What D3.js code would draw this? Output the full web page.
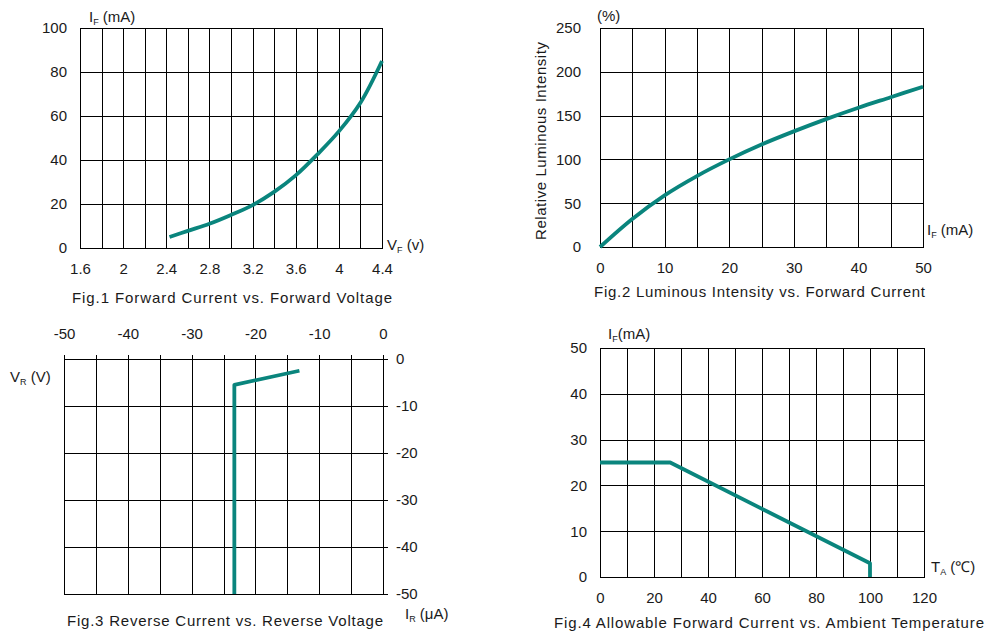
<!DOCTYPE html>
<html lang="en">
<head>
<meta charset="utf-8">
<title>LED characteristics</title>
<style>
  body { margin: 0; background: #fff; }
  svg text { font-family: "Liberation Sans", Arial, sans-serif; fill: #1a1a1a; }
  .grid line, .grid path { stroke: #000; stroke-width: 1; shape-rendering: crispEdges; }
  .lbl .domain, .lbl line { display: none; }
  .lbl text { font-size: 15px; }
  .curve { fill: none; stroke: #0a857d; stroke-width: 3.8; stroke-linejoin: round; }
</style>
</head>
<body>
<script src="https://cdn.jsdelivr.net/npm/d3@7"></script>
<script>
// Fig.1 forward current vs forward voltage
var fig1Volt = [2.43, 2.6, 2.8, 3.0, 3.2, 3.4, 3.6, 3.8, 4.0, 4.2, 4.4];
var fig1Curr = [5, 7.8, 11, 15, 19.5, 25.5, 33, 42.5, 53, 66, 85];
var fig1XTicks = [1.6, 2, 2.4, 2.8, 3.2, 3.6, 4, 4.4];
var fig1YTicks = [0, 20, 40, 60, 80, 100];

// Fig.2 luminous intensity vs forward current
var fig2Curr = [0, 5, 10, 15, 20, 25, 30, 35, 40, 45, 50];
var fig2Lum = [0, 32, 59, 81, 100, 117, 132, 146, 159, 171, 183];
var fig2XTicks = [0, 10, 20, 30, 40, 50];
var fig2YTicks = [0, 50, 100, 150, 200, 250];

// Fig.3 reverse current vs reverse voltage
var fig3Curr = [-23.3, -23.3, -13.1];
var fig3Volt = [-50, -5.5, -2.5];
var fig3XTicks = [-50, -40, -30, -20, -10, 0];
var fig3YTicks = [0, -10, -20, -30, -40, -50];

// Fig.4 allowable forward current vs ambient temperature
var fig4Temp = [0, 26, 100, 100];
var fig4Curr = [25, 25, 3, 0];
var fig4XTicks = [0, 20, 40, 60, 80, 100, 120];
var fig4YTicks = [0, 10, 20, 30, 40, 50];

var svg = d3.select("body").append("svg")
    .attr("width", 986)
    .attr("height", 634);

// plain hyphen minus, like the original datasheet
var plain = function(d) { return String(d); };

function gridValues(dom, step) {
    var out = [], lo = Math.min(dom[0], dom[1]), hi = Math.max(dom[0], dom[1]);
    for (var v = lo; v <= hi + 1e-9; v += step) out.push(+v.toFixed(4));
    return out;
}

function panel(o) {
    var x = d3.scaleLinear().domain(o.xDomain).range(o.xRange);
    var y = d3.scaleLinear().domain(o.yDomain).range(o.yRange);
    var left = o.xRange[0], right = o.xRange[1];
    var top = Math.min(o.yRange[0], o.yRange[1]), bottom = Math.max(o.yRange[0], o.yRange[1]);
    var g = svg.append("g");

    // vertical grid
    g.append("g").attr("class", "grid")
        .attr("transform", "translate(0," + bottom + ")")
        .call(d3.axisBottom(x).tickValues(gridValues(o.xDomain, o.xStep))
            .tickSize(-(bottom - top + (o.topExt || 0))).tickSizeOuter(0).tickFormat(""));
    // horizontal grid
    g.append("g").attr("class", "grid")
        .attr("transform", "translate(" + left + ",0)")
        .call(d3.axisRight(y).tickValues(gridValues(o.yDomain, o.yStep))
            .tickSize(right - left + (o.rightExt || 0)).tickSizeOuter(0).tickFormat(""));
    g.append("rect").attr("x", left).attr("y", top)
        .attr("width", right - left).attr("height", bottom - top)
        .attr("fill", "none").attr("stroke", "#000").attr("shape-rendering", "crispEdges");

    // tick labels
    var xa = o.xTop ? d3.axisTop(x) : d3.axisBottom(x);
    g.append("g").attr("class", "lbl")
        .attr("transform", "translate(0," + o.xLabelY + ")")
        .call(xa.tickValues(o.xTicks).tickSize(0).tickPadding(0).tickFormat(plain));
    var ya = o.yRight ? d3.axisRight(y) : d3.axisLeft(y);
    g.append("g").attr("class", "lbl")
        .attr("transform", "translate(" + o.yLabelX + ",0)")
        .call(ya.tickValues(o.yTicks).tickSize(0).tickPadding(0).tickFormat(plain));

    var line = d3.line()
        .x(function(d) { return x(d[0]); })
        .y(function(d) { return y(d[1]); })
        .curve(o.smooth ? d3.curveCatmullRom : d3.curveLinear);
    g.append("path").attr("class", "curve")
        .datum(d3.zip(o.xs, o.ys))
        .attr("d", line);
    return g;
}

function label(x, y, main, sub, rest, size) {
    var t = svg.append("text").attr("x", x).attr("y", y).style("font-size", (size || 15) + "px");
    t.append("tspan").text(main);
    if (sub) {
        t.append("tspan").attr("dy", 3).style("font-size", "9px").text(sub);
        t.append("tspan").attr("dy", -3).text(rest);
    }
    return t;
}

function title(x, y, str, len) {
    svg.append("text").attr("x", x).attr("y", y)
        .attr("textLength", len).attr("lengthAdjust", "spacing")
        .style("font-size", "15px").text(str);
}

// Fig.1
panel({
    xDomain: [1.6, 4.4], xRange: [80, 382], xStep: 0.2,
    yDomain: [0, 100], yRange: [248, 28], yStep: 20,
    xTicks: fig1XTicks, yTicks: fig1YTicks,
    xLabelY: 263, yLabelX: 67,
    xs: fig1Volt, ys: fig1Curr, smooth: true
});
label(89, 22, "I", "F", " (mA)");
label(387, 250, "V", "F", " (v)");
title(72, 303, "Fig.1 Forward Current vs. Forward Voltage", 320);

// Fig.2
panel({
    xDomain: [0, 50], xRange: [600, 923], xStep: 5,
    yDomain: [0, 250], yRange: [247, 28], yStep: 50,
    xTicks: fig2XTicks, yTicks: fig2YTicks,
    xLabelY: 262, yLabelX: 581,
    xs: fig2Curr, ys: fig2Lum, smooth: true
});
label(597, 21, "(%)");
label(927, 235, "I", "F", " (mA)");
svg.append("text")
    .attr("transform", "translate(546,141) rotate(-90)")
    .attr("text-anchor", "middle")
    .attr("textLength", 198).attr("lengthAdjust", "spacing")
    .style("font-size", "15px")
    .text("Relative Luminous Intensity");
title(594, 297, "Fig.2 Luminous Intensity vs. Forward Current", 331);

// Fig.3
panel({
    xDomain: [-50, 0], xRange: [64, 383], xStep: 5,
    yDomain: [0, -50], yRange: [359, 594], yStep: 10,
    xTicks: fig3XTicks, yTicks: fig3YTicks,
    xTop: true, xLabelY: 339, yRight: true, yLabelX: 396,
    topExt: 4, rightExt: 5,
    xs: fig3Curr, ys: fig3Volt
});
label(10, 382, "V", "R", " (V)");
label(405, 619, "I", "R", " (\u03bcA)");
title(67, 626, "Fig.3 Reverse Current vs. Reverse Voltage", 316);

// Fig.4
panel({
    xDomain: [0, 120], xRange: [600, 924], xStep: 10,
    yDomain: [0, 50], yRange: [577, 348], yStep: 10,
    xTicks: fig4XTicks, yTicks: fig4YTicks,
    xLabelY: 592, yLabelX: 587,
    xs: fig4Temp, ys: fig4Curr
});
label(608, 339, "I", "F", "(mA)");
label(931, 572, "T", "A", " (\u2103)");
title(554, 628, "Fig.4 Allowable Forward Current vs. Ambient Temperature", 430);
</script>
</body>
</html>
